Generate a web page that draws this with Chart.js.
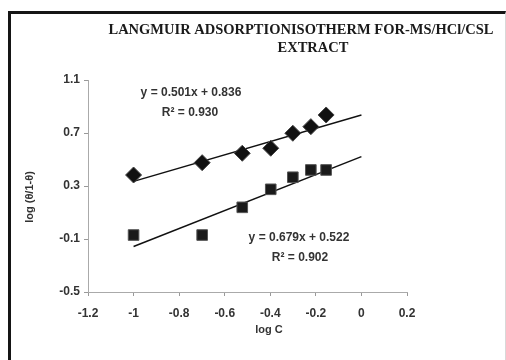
<!DOCTYPE html>
<html>
<head>
<meta charset="utf-8">
<script src="https://cdn.jsdelivr.net/npm/chart.js@4.4.1/dist/chart.umd.min.js"></script>
<style>
  html, body { margin: 0; padding: 0; background: #fff; }
  #wrap { position: relative; width: 506px; height: 360px; }
  #frame {
    position: absolute; left: 8px; top: 11px; width: 494px; height: 346px;
    border-top: 3px solid #151515; border-left: 3px solid #151515;
    border-right: 1px solid #d8d8d8; border-bottom: 1px solid #d8d8d8;
  }
  canvas { position: absolute; left: 0; top: 0; }
</style>
</head>
<body>
<div id="wrap">
  <div id="frame"></div>
  <canvas id="chart" width="506" height="360"></canvas>
</div>
<script>
// log C values (conc. 0.1 ... 0.7)
const logC = [-1.0, -0.699, -0.523, -0.398, -0.301, -0.222, -0.155];
// log(theta/1-theta), two series
const seriesDiamond = [0.383, 0.476, 0.547, 0.585, 0.698, 0.748, 0.836];
const seriesSquare = [-0.07, -0.07, 0.139, 0.275, 0.366, 0.421, 0.421];

// trendline end points as drawn
const trendX = [-1.0, 0.0];
const trendDiamond = [0.335, 0.836];
const trendSquare = [-0.157, 0.522];

const xTicks = [-1.2, -1, -0.8, -0.6, -0.4, -0.2, 0, 0.2];
const yTicks = [-0.5, -0.1, 0.3, 0.7, 1.1];

function pts(xs, ys) {
    return xs.map((x, i) => ({ x: x, y: ys[i] }));
}

// texts drawn on top: title, equations, axis titles
const textPlugin = {
    id: 'texts',
    afterDraw(chart) {
        const ctx = chart.ctx;
        ctx.save();
        ctx.fillStyle = '#1a1a1a';
        ctx.textAlign = 'center';
        ctx.textBaseline = 'middle';

        ctx.font = 'bold 14.5px "Liberation Serif"';
        ctx.fillText('LANGMUIR ADSORPTIONISOTHERM FOR-MS/HCl/CSL', 301, 30);
        ctx.fillText('EXTRACT', 313, 48);

        ctx.fillStyle = '#333';
        ctx.font = 'bold 12px "Liberation Sans"';
        ctx.fillText('y = 0.501x + 0.836', 191, 93);
        ctx.fillText('R\u00b2 = 0.930', 190, 113);
        ctx.fillText('y = 0.679x + 0.522', 299, 238);
        ctx.fillText('R\u00b2 = 0.902', 300, 258);

        ctx.font = 'bold 11px "Liberation Sans"';
        ctx.fillText('log C', 269, 330);
        ctx.translate(30, 197);
        ctx.rotate(-Math.PI / 2);
        ctx.fillText('log (\u03b8/1-\u03b8)', 0, 0);
        ctx.restore();
    }
};

window.onload = function() {
    const ctx = document.getElementById('chart').getContext('2d');
    new Chart(ctx, {
        type: 'scatter',
        data: {
            datasets: [
                {
                    label: 'diamond',
                    data: pts(logC, seriesDiamond),
                    pointStyle: 'rectRot',
                    pointRadius: 8,
                    backgroundColor: '#111',
                    borderColor: '#444',
                    borderWidth: 1
                },
                {
                    label: 'square',
                    data: pts(logC, seriesSquare),
                    pointStyle: 'rect',
                    pointRadius: 7.5,
                    backgroundColor: '#1a1a1a',
                    borderColor: '#555',
                    borderWidth: 1
                },
                {
                    label: 'fit diamond',
                    type: 'line',
                    data: pts(trendX, trendDiamond),
                    borderColor: '#111',
                    borderWidth: 1.5,
                    pointRadius: 0
                },
                {
                    label: 'fit square',
                    type: 'line',
                    data: pts(trendX, trendSquare),
                    borderColor: '#111',
                    borderWidth: 1.5,
                    pointRadius: 0
                }
            ]
        },
        options: {
            responsive: false,
            animation: false,
            layout: { padding: { left: 0, top: 80, right: 99, bottom: 0 } },
            plugins: {
                legend: { display: false },
                tooltip: { enabled: false }
            },
            scales: {
                x: {
                    type: 'linear',
                    min: -1.2,
                    max: 0.2,
                    afterBuildTicks: s => { s.ticks = xTicks.map(v => ({ value: v })); },
                    afterFit: s => { s.height = 68; },
                    grid: { display: true, drawOnChartArea: false, tickLength: 4, color: '#999' },
                    border: { color: '#aaa', dash: [2, 1] },
                    ticks: {
                        padding: 10,
                        color: '#333',
                        font: { family: 'Liberation Sans', size: 12, weight: 'bold' },
                        callback: v => String(v)
                    }
                },
                y: {
                    min: -0.5,
                    max: 1.1,
                    afterBuildTicks: s => { s.ticks = yTicks.map(v => ({ value: v })); },
                    afterFit: s => { s.width = 88; },
                    grid: { display: true, drawOnChartArea: false, tickLength: 4, color: '#999' },
                    border: { color: '#aaa', dash: [2, 1] },
                    ticks: {
                        padding: 4,
                        color: '#333',
                        font: { family: 'Liberation Sans', size: 12, weight: 'bold' },
                        callback: v => String(v)
                    }
                }
            }
        },
        plugins: [textPlugin]
    });
};
</script>
</body>
</html>
